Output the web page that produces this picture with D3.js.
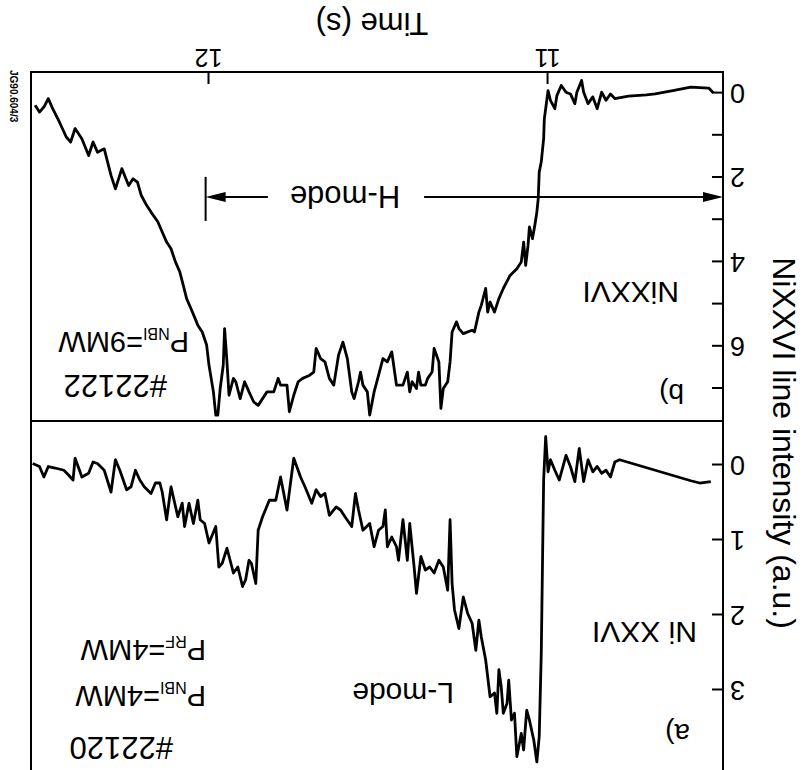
<!DOCTYPE html>
<html>
<head>
<meta charset="utf-8">
<script src="https://cdn.jsdelivr.net/npm/d3@7"></script>
<style>
body { margin: 0; background: #fff; }
svg { display: block; }
text { font-family: "Liberation Sans", Arial, Helvetica, sans-serif; fill: #000; }
</style>
</head>
<body>
<div id="chart"></div>
<script>
// a) #22120, L-mode (P_NBI=4MW, P_RF=4MW)
var timeA = [
  10.520,10.553,10.579,10.789,10.803,10.816,10.829,10.842,10.855,10.868,
  10.882,10.895,10.908,10.921,10.934,10.947,10.967,10.980,10.993,11.000,
  11.007,11.013,11.016,11.020,11.026,11.033,11.042,11.055,11.063,11.072,
  11.079,11.092,11.099,11.108,11.116,11.121,11.132,11.138,11.145,11.151,
  11.158,11.171,11.184,11.197,11.204,11.213,11.224,11.237,11.250,11.263,
  11.276,11.283,11.289,11.296,11.309,11.322,11.336,11.349,11.362,11.375,
  11.388,11.395,11.408,11.415,11.428,11.441,11.447,11.461,11.474,11.480,
  11.487,11.500,11.513,11.526,11.546,11.559,11.568,11.579,11.599,11.612,
  11.625,11.645,11.658,11.671,11.684,11.697,11.717,11.730,11.750,11.770,
  11.789,11.803,11.822,11.842,11.855,11.862,11.875,11.882,11.892,11.901,
  11.915,11.928,11.947,11.961,11.971,11.980,12.000,12.013,12.026,12.033,
  12.046,12.059,12.072,12.079,12.092,12.112,12.125,12.138,12.145,12.158,
  12.171,12.191,12.204,12.217,12.230,12.243,12.263,12.276,12.289,12.309,
  12.329,12.342,12.355,12.375,12.382,12.395,12.401,12.415,12.428,12.454,
  12.474,12.487,12.500,12.520];
var intA = [
  0.22,0.24,0.21,-0.07,-0.04,0.16,0.07,0.11,0.02,0.09,
  -0.07,0.22,-0.22,0.22,0.02,-0.13,0.20,0.07,-0.07,0.09,
  -0.38,0.20,1.18,2.51,3.62,3.96,3.67,3.40,3.27,3.80,
  3.58,3.89,3.31,3.40,2.87,3.18,3.31,2.96,2.73,3.31,
  3.04,3.09,2.60,2.29,2.07,2.47,2.11,1.98,1.76,2.18,
  1.93,1.58,0.73,1.67,1.36,1.27,1.44,1.36,1.40,1.22,
  1.71,1.36,0.78,1.27,0.73,1.27,1.09,0.96,1.09,0.60,
  0.82,0.87,1.09,0.78,0.87,0.60,0.38,0.82,0.69,0.60,
  0.56,0.67,0.38,0.42,0.33,0.51,0.29,0.16,-0.09,0.60,
  0.16,0.47,0.47,0.69,0.87,1.58,1.31,1.27,1.53,1.62,
  1.36,1.44,1.11,1.31,1.36,0.82,1.04,0.78,0.73,0.47,
  0.78,0.51,0.82,0.51,0.69,0.29,0.73,0.36,0.24,0.24,
  0.38,0.29,0.20,0.07,0.29,0.33,0.07,-0.07,0.36,0.07,
  -0.02,-0.04,0.11,0.16,0.07,-0.09,0.20,0.13,0.07,0.04,
  0.02,0.16,0.02,-0.02];

// b) #22122, H-mode (P_NBI=9MW)
var timeB = [
  10.513,10.526,10.579,10.632,10.684,10.710,10.763,10.803,10.816,10.829,
  10.842,10.855,10.868,10.882,10.895,10.901,10.915,10.921,10.934,10.947,
  10.961,10.974,10.980,10.993,11.000,11.007,11.011,11.013,11.020,11.026,
  11.029,11.033,11.039,11.046,11.055,11.059,11.066,11.072,11.079,11.092,
  11.112,11.132,11.145,11.158,11.171,11.178,11.184,11.197,11.204,11.217,
  11.224,11.250,11.263,11.270,11.283,11.289,11.296,11.309,11.316,11.322,
  11.336,11.342,11.355,11.362,11.375,11.382,11.388,11.401,11.408,11.415,
  11.428,11.447,11.461,11.474,11.487,11.500,11.513,11.526,11.533,11.546,
  11.553,11.559,11.572,11.579,11.592,11.605,11.618,11.632,11.645,11.658,
  11.671,11.684,11.691,11.704,11.724,11.737,11.750,11.763,11.770,11.789,
  11.796,11.809,11.829,11.855,11.868,11.882,11.895,11.908,11.921,11.928,
  11.941,11.947,11.954,11.958,11.967,11.974,11.980,11.987,12.000,12.007,
  12.020,12.033,12.039,12.053,12.066,12.076,12.086,12.099,12.112,12.125,
  12.138,12.151,12.171,12.184,12.200,12.211,12.224,12.237,12.257,12.276,
  12.289,12.309,12.329,12.342,12.355,12.375,12.395,12.408,12.421,12.441,
  12.461,12.474,12.487,12.500,12.513];
var intB = [
  -0.01,-0.12,-0.14,-0.06,0.02,0.04,0.07,0.13,0.02,0.17,
  -0.02,0.37,0.09,0.25,-0.02,-0.30,-0.02,0.25,0.02,-0.02,
  -0.18,0.06,0.37,0.17,-0.06,0.37,0.61,1.08,1.63,1.87,
  2.50,2.82,3.13,3.45,3.17,3.61,4.08,3.53,4.00,4.16,
  4.32,4.63,4.87,5.19,4.95,5.19,4.63,5.03,5.19,5.66,
  5.62,5.70,5.58,5.42,5.66,6.37,6.84,7.00,7.47,6.37,
  6.05,6.61,6.76,6.92,6.92,6.61,7.00,6.84,7.08,6.61,
  6.92,6.92,6.13,6.37,6.29,6.69,7.08,7.63,7.08,6.92,
  6.61,6.84,7.24,7.08,6.29,5.90,6.21,6.92,6.76,6.37,
  6.29,6.05,6.61,6.69,6.76,6.84,7.16,7.55,6.92,6.92,
  6.76,7.08,7.08,7.40,7.32,7.08,6.84,7.24,6.84,6.76,
  7.16,6.37,5.58,6.45,7.00,7.63,7.63,7.08,6.45,5.97,
  5.66,5.50,5.38,5.11,4.87,4.55,4.24,4.00,3.69,3.53,
  3.29,3.05,2.82,2.66,2.42,2.11,2.03,2.19,1.79,2.27,
  1.95,1.32,1.40,1.16,1.48,1.08,0.84,1.16,1.04,0.69,
  0.37,0.13,0.33,0.45,0.29];

var timeTicks = [11, 12];
var ticksA = [0, 1, 2, 3];
var ticksB = [0, 1, 2, 3, 4, 5, 6, 7];
var labelsB = [0, 2, 4, 6];
var hmodeStart = 12.01;   // end of H-mode arrow
var hmodeLevel = 2.46;    // height of the arrow in panel b

var W = 803, H = 770;
var plotL = 80, plotR = 772, plotT = -5, plotMid = 349, plotB = 698;

var svg = d3.select("#chart").append("svg")
    .attr("width", W)
    .attr("height", H);

// the scanned figure is upside down: draw it normally then turn it 180 deg
var g = svg.append("g")
    .attr("transform", "rotate(180," + W / 2 + "," + H / 2 + ")");

var x = d3.scaleLinear().domain([10.484, 12.525]).range([plotL, plotR]);
var yA = d3.scaleLinear().domain([-0.587, 4.067]).range([plotMid, 0]);
var yB = d3.scaleLinear().domain([-0.5, 7.77]).range([plotB, plotMid]);

// frames
g.append("path")
    .attr("d", "M" + plotL + "," + plotT + "V" + plotB + "H" + plotR + "V" + plotT)
    .attr("fill", "none").attr("stroke", "#000").attr("stroke-width", 2);
g.append("line")
    .attr("x1", plotL).attr("x2", plotR).attr("y1", plotMid).attr("y2", plotMid)
    .attr("stroke", "#000").attr("stroke-width", 2);

// y axes
var axA = g.append("g")
    .attr("transform", "translate(" + plotL + ",0)")
    .call(d3.axisLeft(yA).tickValues(ticksA).tickSize(-11).tickPadding(7).tickFormat(d3.format("d")));
var axB = g.append("g")
    .attr("transform", "translate(" + plotL + ",0)")
    .call(d3.axisLeft(yB).tickValues(ticksB).tickSize(-11).tickPadding(7)
      .tickFormat(function(d) { return labelsB.indexOf(d) >= 0 ? d : ""; }));
// x axis
var axX = g.append("g")
    .attr("transform", "translate(0," + plotB + ")")
    .call(d3.axisBottom(x).tickValues(timeTicks).tickSize(-12).tickPadding(5).tickFormat(d3.format("d")));

[axA, axB, axX].forEach(function(a) {
  a.select(".domain").remove();
  a.selectAll(".tick line").attr("stroke-width", 2);
  a.attr("font-family", null).attr("font-size", null);
  a.selectAll("text").style("font-size", "27px");
});
axX.selectAll("text").style("font-size", "25px");

// axis titles
g.append("text")
    .attr("x", (plotL + plotR) / 2 + 5).attr("y", 757)
    .attr("text-anchor", "middle")
    .style("font-size", "31px")
    .text("Time (s)");
g.append("text")
    .attr("transform", "translate(30,327) rotate(-90)")
    .attr("text-anchor", "middle")
    .style("font-size", "32px")
    .text("NiXXVI line intensity (a.u.)");

// traces
var lineA = d3.line().x(function(d) { return x(d[0]); }).y(function(d) { return yA(d[1]); });
var lineB = d3.line().x(function(d) { return x(d[0]); }).y(function(d) { return yB(d[1]); });

g.append("path")
    .datum(d3.zip(timeA, intA))
    .attr("d", lineA)
    .attr("fill", "none").attr("stroke", "#000")
    .attr("stroke-width", 2.8).attr("stroke-linejoin", "round");
g.append("path")
    .datum(d3.zip(timeB, intB))
    .attr("d", lineB)
    .attr("fill", "none").attr("stroke", "#000")
    .attr("stroke-width", 2.8).attr("stroke-linejoin", "round");

// H-mode arrow
var ay = yB(hmodeLevel), ax0 = x.range()[0], ax1 = x(hmodeStart);
var ht = g.append("text")
    .attr("x", 458).attr("y", ay + 11)
    .attr("text-anchor", "middle")
    .style("font-size", "31px")
    .text("H-mode");
var hw = ht.node().getComputedTextLength() / 2;
g.append("line").attr("x1", ax0 + 18).attr("x2", 458 - hw - 24).attr("y1", ay).attr("y2", ay)
    .attr("stroke", "#000").attr("stroke-width", 2);
g.append("line").attr("x1", 458 + hw + 22).attr("x2", ax1 - 18).attr("y1", ay).attr("y2", ay)
    .attr("stroke", "#000").attr("stroke-width", 2);
g.append("path")
    .attr("d", "M" + ax0 + "," + ay + "l20,-5v10z").attr("fill", "#000");
g.append("path")
    .attr("d", "M" + ax1 + "," + ay + "l-20,-5v10z").attr("fill", "#000");
g.append("line").attr("x1", ax1).attr("x2", ax1).attr("y1", ay - 24).attr("y2", ay + 20)
    .attr("stroke", "#000").attr("stroke-width", 2);

// annotations
function note(tx, ty, size, parts) {
  var t = g.append("text").attr("x", tx).attr("y", ty).style("font-size", size + "px");
  parts.forEach(function(p) {
    var s = t.append("tspan").text(p.t);
    if (p.sub) s.style("font-size", "16px").attr("dy", 4);
    if (p.back) s.attr("dy", -4);
  });
}
note(630, 33, 31, [{t: "#22120"}]);
note(597, 84, 29, [{t: "P"}, {t: "NBI", sub: true}, {t: "=4MW", back: true}]);
note(597, 130, 29, [{t: "P"}, {t: "RF", sub: true}, {t: "=4MW", back: true}]);
note(113, 46, 28, [{t: "a)"}]);
note(106, 148, 30, [{t: "Ni XXVI"}]);
note(349, 87, 30, [{t: "L-mode"}]);

note(636, 395, 31, [{t: "#22122"}]);
note(614, 438, 29, [{t: "P"}, {t: "NBI", sub: true}, {t: "=9MW", back: true}]);
note(119, 386, 28, [{t: "b)"}]);
note(124, 488, 30, [{t: "NiXXVI"}]);

g.append("text")
    .attr("transform", "translate(793,700) rotate(-90)")
    .style("font-size", "10px").style("font-weight", "bold")
    .text("JG90.604/3");
</script>
</body>
</html>
